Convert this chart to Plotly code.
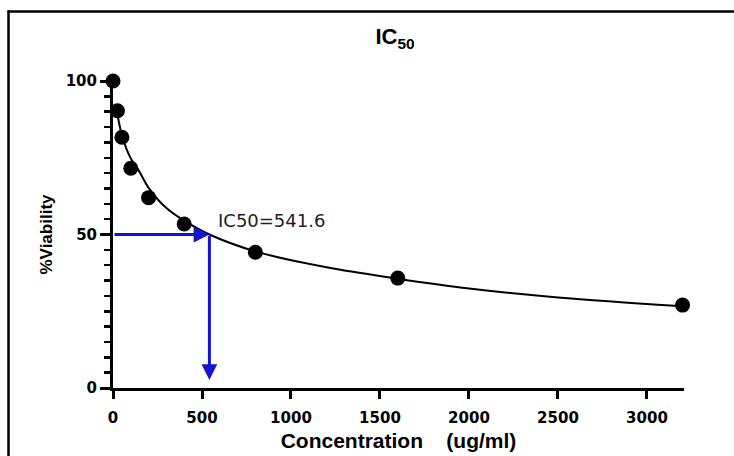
import plotly.graph_objects as go

# ---- data ----
conc = [0, 25, 50, 100, 200, 400, 800, 1600, 3200]
viability = [100, 90.3, 81.7, 71.6, 62.0, 53.4, 44.2, 35.8, 27.0]

fit_x = [25, 50, 75, 100, 150, 200, 300, 400, 541.6, 800, 1200, 1600, 2000, 2500, 3200]
fit_y = [89.0, 82.3, 78.0, 74.8, 70.3, 65.2, 58.6, 54.5, 50.0, 44.5, 39.3, 35.6, 32.4, 29.5, 26.6]

ic50 = 541.6
half_viability = 50
arrow_bottom = 2.6

x_ticks = [0, 500, 1000, 1500, 2000, 2500, 3000]
y_ticks = [0, 50, 100]

BLUE = "#1414cc"
W, H = 734, 456
ML, MT = 113, 81
PW, PH = 571, 307
MR = W - ML - PW
MB = H - MT - PH


def px_x(p):  # reference pixel -> paper x
    return (p - ML) / PW


def px_y(p):  # reference pixel -> paper y
    return (MT + PH - p) / PH


fig = go.Figure()

fig.add_trace(go.Scatter(
    x=fit_x, y=fit_y, mode="lines",
    line=dict(color="black", width=2, shape="spline", smoothing=1.0),
    cliponaxis=False, hoverinfo="skip", showlegend=False))

fig.add_trace(go.Scatter(
    x=conc, y=viability, mode="markers",
    marker=dict(color="black", size=15, line=dict(width=0)),
    cliponaxis=False, showlegend=False))

# IC50 arrows
fig.add_annotation(x=ic50, y=half_viability, ax=0, ay=half_viability,
                   xref="x", yref="y", axref="x", ayref="y", text="",
                   showarrow=True, arrowhead=2, arrowsize=1.05, arrowwidth=3,
                   arrowcolor=BLUE)
fig.add_annotation(x=ic50, y=arrow_bottom, ax=ic50, ay=half_viability,
                   xref="x", yref="y", axref="x", ayref="y", text="",
                   showarrow=True, arrowhead=2, arrowsize=1.05, arrowwidth=3,
                   arrowcolor=BLUE)
fig.add_annotation(x=px_x(216), y=px_y(220), xref="paper", yref="paper",
                   text="IC50=541.6", showarrow=False, xanchor="left", yanchor="middle",
                   font=dict(family="DejaVu Sans", size=18, color="#222222"))

# outer frame (only left and top edges visible in the reference)
fig.add_shape(type="line", xref="paper", yref="paper",
              x0=px_x(8.5), x1=px_x(8.5), y0=px_y(480), y1=px_y(10.5),
              line=dict(color="black", width=2.5), layer="below")
fig.add_shape(type="line", xref="paper", yref="paper",
              x0=px_x(7.5), x1=px_x(800), y0=px_y(11.5), y1=px_y(11.5),
              line=dict(color="black", width=2.5), layer="below")

fig.update_layout(
    width=W, height=H,
    margin=dict(l=ML, r=MR, t=MT, b=MB, autoexpand=False),
    paper_bgcolor="white", plot_bgcolor="white",
    title=dict(text="<b>IC<sub>50</sub></b>", x=px_x(395), xref="paper", xanchor="center",
               y=1 - 29 / H, yref="container", yanchor="top",
               font=dict(family="Liberation Sans", size=22, color="black")),
    xaxis=dict(range=[0, 3208], tickvals=x_ticks, ticktext=[str(v) for v in x_ticks],
               showgrid=False, zeroline=False, showline=True, linecolor="black", linewidth=3,
               ticks="outside", ticklen=8, tickwidth=3, tickcolor="black",
               ticklabelstandoff=6,
               tickfont=dict(family="DejaVu Sans", size=15, color="black", weight="bold"),
               title=dict(text="<b>Concentration\u00a0\u00a0\u00a0\u00a0(ug/ml)</b>",
                          font=dict(family="Liberation Sans", size=21, color="black"), standoff=8),
               layer="below traces", fixedrange=True),
    yaxis=dict(range=[0, 100], tickvals=y_ticks, ticktext=[str(v) for v in y_ticks],
               showgrid=False, zeroline=False, showline=True, linecolor="black", linewidth=3,
               ticks="outside", ticklen=10, tickwidth=3, tickcolor="black",
               minor=dict(dtick=5, ticks="outside", ticklen=6, tickwidth=2.5, tickcolor="black", showgrid=False),
               tickfont=dict(family="DejaVu Sans", size=15, color="black", weight="bold"),
               title=dict(text="<b>%Viability</b>",
                          font=dict(family="Liberation Sans", size=17, color="black"), standoff=9),
               layer="below traces", fixedrange=True),
)

fig.write_html(
    "out.html",
    config={"displayModeBar": False, "staticPlot": True},
    post_script="document.body.style.margin='0';document.body.style.overflow='hidden';"
                "document.documentElement.style.overflow='hidden';",
)
